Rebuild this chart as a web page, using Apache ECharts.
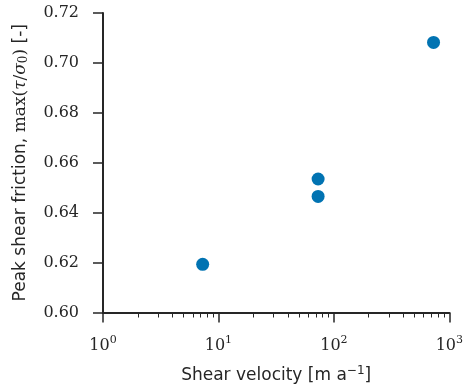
<!DOCTYPE html>
<html>
<head>
<meta charset="utf-8">
<script src="https://cdn.jsdelivr.net/npm/echarts@6/dist/echarts.min.js"></script>
<style>
  html, body { margin: 0; padding: 0; background: #fff; }
  #chart { width: 466px; height: 389px; }
</style>
</head>
<body>
<div id="chart"></div>
<script>
  // data
  var shearVelocity = [7.3, 73, 73, 730];
  var peakFriction = [0.6193, 0.6465, 0.6535, 0.7082];
  var minorTicks = [2, 3, 4, 5, 6, 7, 8, 9, 20, 30, 40, 50, 60, 70, 80, 90, 200, 300, 400, 500, 600, 700, 800, 900];

  var ink = '#262626';
  var chart = echarts.init(document.getElementById('chart'));

  var points = shearVelocity.map(function (v, i) { return [v, peakFriction[i]]; });

  var option = {
    animation: false,
    grid: { left: 103, right: 13, top: 13, bottom: 76 },
    xAxis: [{
      type: 'log',
      logBase: 10,
      min: 1,
      max: 1000,
      name: 'Shear velocity [m a{s|\u22121}]',
      nameLocation: 'middle',
      nameGap: 52,
      nameTextStyle: {
        color: ink, fontSize: 17, fontFamily: 'DejaVu Sans',
        rich: { s: { fontSize: 12, color: ink, fontFamily: 'DejaVu Sans', padding: [0, 0, 10, 0] } }
      },
      axisLine: { lineStyle: { color: ink, width: 2 } },
      axisTick: { length: 10, lineStyle: { color: ink, width: 1.5 } },
      splitLine: { show: false },
      axisLabel: {
        margin: 22,
        color: ink,
        fontSize: 16,
        fontFamily: 'DejaVu Serif',
        formatter: function (v) {
          return '10{s|' + Math.round(Math.log10(v)) + '}';
        },
        rich: { s: { fontSize: 11, color: ink, fontFamily: 'DejaVu Serif', padding: [0, 0, 12, 0] } }
      }
    }, {
      type: 'log',
      logBase: 10,
      min: 1,
      max: 1000,
      position: 'bottom',
      axisLine: { show: false },
      axisLabel: { show: false },
      splitLine: { show: false },
      axisTick: { length: 5, customValues: minorTicks, lineStyle: { color: ink, width: 1 } }
    }],
    yAxis: {
      type: 'value',
      min: 0.60,
      max: 0.72,
      interval: 0.02,
      name: 'Peak shear friction, {r|max(}{i|\u03c4}{r|/}{i|\u03c3}{b|0}{r|)} [-]',
      nameLocation: 'middle',
      nameGap: 73,
      nameTextStyle: {
        color: ink, fontSize: 17, fontFamily: 'DejaVu Sans',
        rich: {
          r: { fontSize: 17, color: ink, fontFamily: 'DejaVu Serif' },
          i: { fontSize: 17, color: ink, fontFamily: 'DejaVu Serif', fontStyle: 'italic' },
          b: { fontSize: 12, color: ink, fontFamily: 'DejaVu Serif', padding: [6, 0, 0, 0] }
        }
      },
      axisLine: { show: true, lineStyle: { color: ink, width: 2 } },
      axisTick: { show: true, length: 10, lineStyle: { color: ink, width: 1.5 } },
      splitLine: { show: false },
      axisLabel: {
        margin: 24,
        color: ink,
        fontSize: 16,
        fontFamily: 'DejaVu Serif',
        formatter: function (v) { return v.toFixed(2); }
      }
    },
    series: [{
      type: 'scatter',
      symbolSize: 13,
      itemStyle: { color: '#0173B2', opacity: 1 },
      data: points
    }]
  };

  chart.setOption(option);
</script>
</body>
</html>
